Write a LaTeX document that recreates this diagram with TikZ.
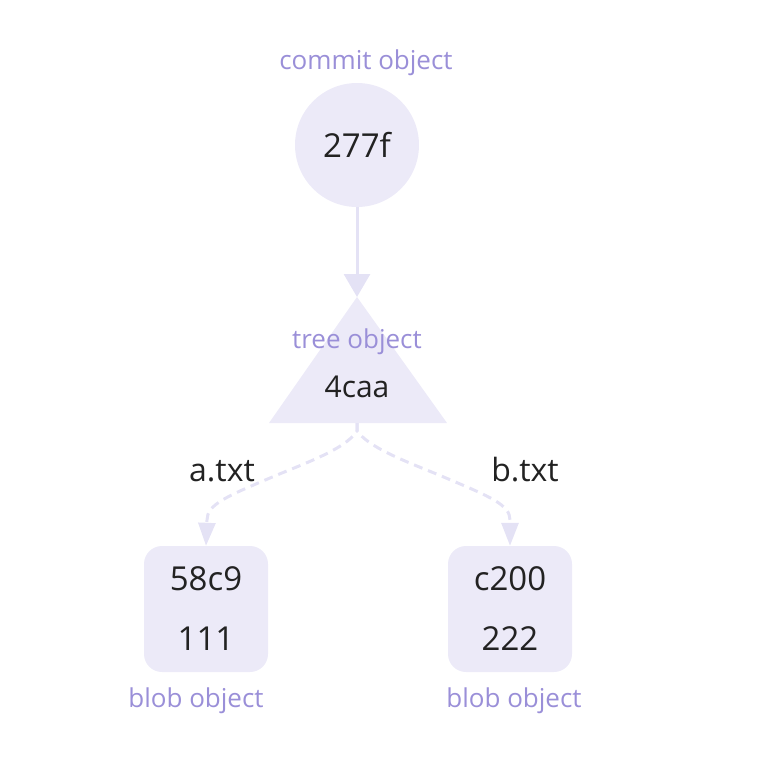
\documentclass[tikz,border=0pt]{standalone}
\usepackage{fontspec}
\setmainfont{Open Sans}
\usetikzlibrary{arrows.meta, positioning}
\definecolor{objfill}{HTML}{ECEAF8}
\definecolor{edgecol}{HTML}{E4E2F5}
\definecolor{tagcol}{HTML}{9A8FD8}
\definecolor{inkcol}{HTML}{222222}

\begin{document}
\begin{tikzpicture}[
            x=1pt, y=-1pt,
            obj/.style={fill=objfill, text=inkcol},
            commitobj/.style={obj, circle, minimum size=124pt, inner sep=0pt, font=\fontsize{33}{38}\selectfont},
            blobobj/.style={obj, rectangle, rounded corners=18pt, minimum width=124pt, minimum height=126pt, align=center, font=\fontsize{33}{60}\selectfont},
            treetxt/.style={text=inkcol, inner sep=0pt, font=\fontsize{30}{34}\selectfont},
            tag/.style={text=tagcol, anchor=base, inner sep=0pt, font=\fontsize{26}{30}\selectfont},
            edgetxt/.style={text=inkcol, anchor=base, inner sep=0pt, font=\fontsize{32}{36}\selectfont},
            link/.style={draw=edgecol, line width=3pt, -{Triangle[width=26pt, length=23pt]}},
            dashlink/.style={draw=edgecol, line width=3pt, dash pattern=on 9pt off 6pt, -{Triangle[width=17pt, length=23pt]}}
        ]
        \useasboundingbox (0,0) rectangle (764,768);

        % Commit
        \node[commitobj] (commit) at (357,145) {277f};
        \node[tag] (committag) at (366,70) {commit object};

        % Tree
        \coordinate (treetop) at (357,297);
        \coordinate (treebase) at (357,423);
        \fill[objfill] (treetop) -- (447,423) -- (269,423) -- cycle;
        \node[tag] (treetag) at (357,348) {tree object};
        \node[treetxt] (tree) at (357,387) {4caa};

        % Blobs
        \node[blobobj] (blobA) at (206,609) {58c9\\111};
        \node[blobobj] (blobB) at (510,609) {c200\\222};
        \node[tag] (blobAtag) at (196,707) {blob object};
        \node[tag] (blobBtag) at (514,707) {blob object};

        % Connections
        \draw[link] (commit.south) -- (treetop);
        \draw[dashlink] (treebase) -- ++(0,8) .. controls (345,450) and (300,465) .. (270,478)
            .. controls (225,497) and (207,505) .. (207,520) -- (blobA.north);
        \draw[dashlink] (treebase) -- ++(0,8) .. controls (371,450) and (416,465) .. (446,478)
            .. controls (491,497) and (510,505) .. (510,520) -- (blobB.north);
        \node[edgetxt] (labelA) at (222,481) {a.txt};
        \node[edgetxt] (labelB) at (525,481) {b.txt};

    \end{tikzpicture}
\end{document}
